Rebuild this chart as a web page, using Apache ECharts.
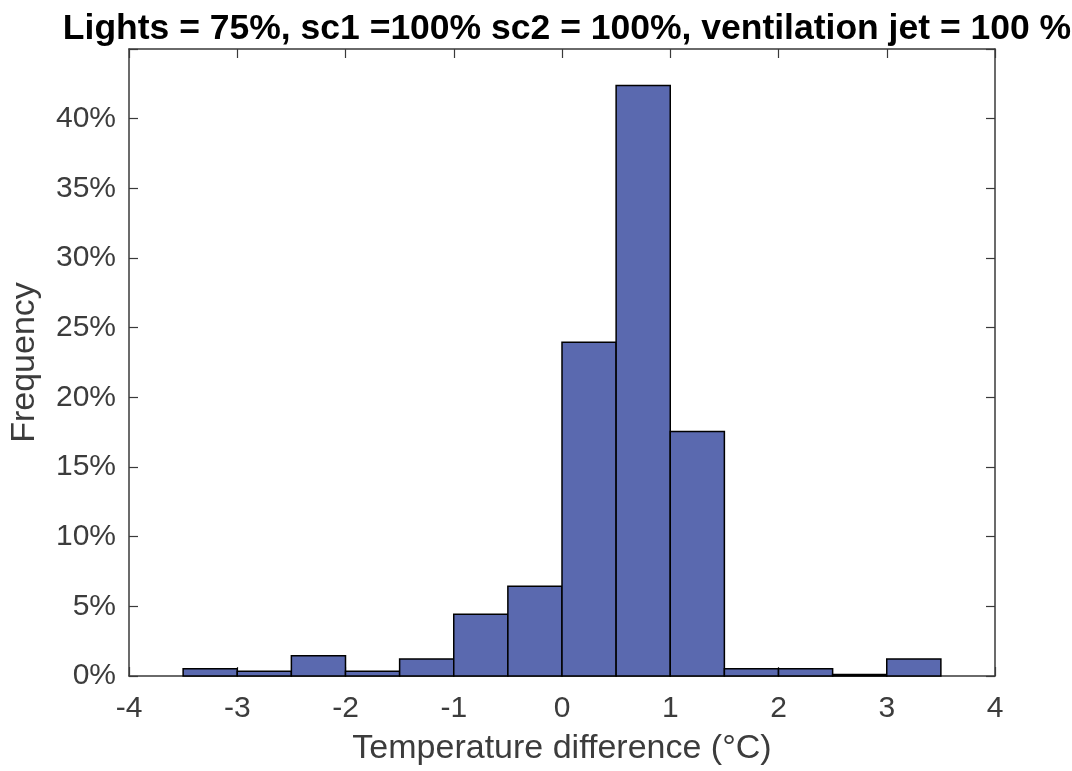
<!DOCTYPE html>
<html>
<head>
<meta charset="utf-8">
<script src="https://cdn.jsdelivr.net/npm/echarts@6/dist/echarts.min.js"></script>
<style>
  html, body { margin: 0; padding: 0; background: #fff; }
  #chart { width: 1072px; height: 771px; }
</style>
</head>
<body>
<div id="chart"></div>
<script>
// bin edges (°C) and frequency (%) per bin
const binStarts = [-3.5, -3, -2.5, -2, -1.5, -1, -0.5, 0, 0.5, 1, 1.5, 2, 2.5, 3];
const binWidth = 0.5;
const frequency = [0.52, 0.34, 1.45, 0.34, 1.22, 4.44, 6.44, 23.95, 42.38, 17.55, 0.52, 0.52, 0.1, 1.22];

const titleText = "Lights = 75%, sc1 =100% sc2 = 100%, ventilation jet = 100 %";
const axisColor = "#3a3a3a";
const labelColor = "#3c3c3c";
const font = "Liberation Sans, Arial";

const chart = echarts.init(document.getElementById("chart"));

const data = binStarts.map((s, i) => [s, s + binWidth, frequency[i]]);

// shared axis styling for the boxed look (ticks inward on all sides)
const boxAxis = {
  axisLine: { show: true, onZero: false, lineStyle: { color: axisColor, width: 1.5 } },
  axisTick: { show: true, inside: true, length: 9, lineStyle: { color: axisColor, width: 1.2 } },
  splitLine: { show: false },
};

chart.setOption({
  animation: false,
  title: {
    text: titleText,
    left: 562,
    textAlign: "center",
    top: 6,
    textStyle: { fontFamily: font, fontSize: 35.5, fontWeight: "bold", color: "#000" },
  },
  grid: { left: 129, right: 77, top: 49, bottom: 92 },
  xAxis: [
    {
      type: "value", min: -4, max: 4, interval: 1, position: "bottom",
      name: "Temperature difference (°C)", nameLocation: "middle", nameGap: 56,
      nameTextStyle: { fontFamily: font, fontSize: 34, color: labelColor },
      axisLabel: { fontFamily: font, fontSize: 30, color: labelColor, margin: 18 },
      ...boxAxis,
    },
    {
      type: "value", min: -4, max: 4, interval: 1, position: "top",
      axisLabel: { show: false },
      ...boxAxis,
    },
  ],
  yAxis: [
    {
      type: "value", min: 0, max: 45, interval: 5, position: "left",
      name: "Frequency", nameLocation: "middle", nameGap: 87,
      nameTextStyle: { fontFamily: font, fontSize: 34, color: labelColor },
      axisLabel: {
        fontFamily: font, fontSize: 30, color: labelColor, margin: 13,
        formatter: (v) => (v > 40 ? "" : v + "%"),
      },
      ...boxAxis,
    },
    {
      type: "value", min: 0, max: 45, interval: 5, position: "right",
      axisLabel: { show: false },
      ...boxAxis,
    },
  ],
  series: [
    {
      type: "custom",
      data: data,
      encode: { x: [0, 1], y: 2 },
      renderItem: function (params, api) {
        const p0 = api.coord([api.value(0), 0]);
        const p1 = api.coord([api.value(1), api.value(2)]);
        return {
          type: "rect",
          shape: { x: p0[0], y: p1[1], width: p1[0] - p0[0], height: p0[1] - p1[1] },
          style: { fill: "#5a69af", stroke: "#000", lineWidth: 1.5 },
        };
      },
    },
  ],
});
</script>
</body>
</html>
